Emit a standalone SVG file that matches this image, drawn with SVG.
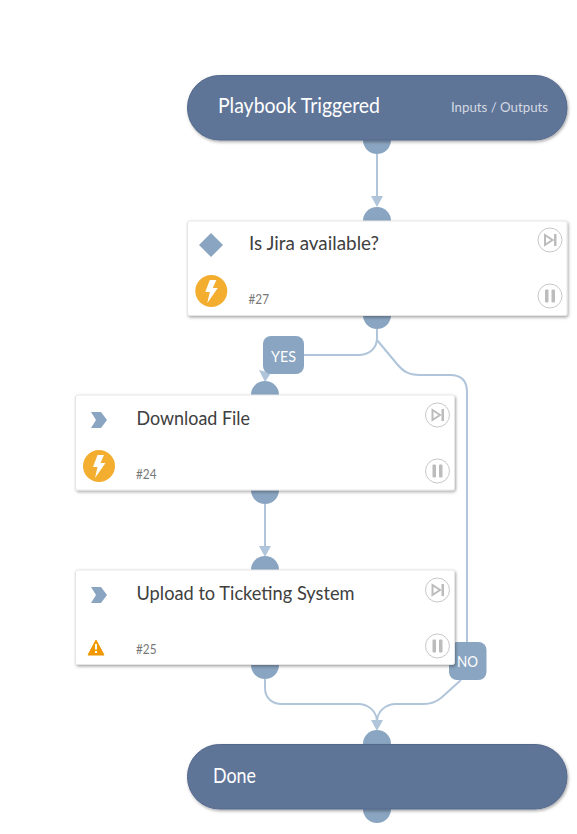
<svg xmlns="http://www.w3.org/2000/svg" width="577" height="834" viewBox="0 0 577 834">
<style>
text{font-family:"Lato","Open Sans","Liberation Sans",sans-serif}
.pill{fill:#5f7498;stroke:#55698c;stroke-width:1;filter:url(#sh)}
.card{fill:#fff;stroke:#e6e6e6;stroke-width:1;filter:url(#sh)}
.port{fill:#8aa5c1}
.link{fill:none;stroke:#b0c4da;stroke-width:2}
.head{fill:#b0c4da}
.badge{fill:#8aa5c1}
.bt{fill:#fff;font-size:15px}
.pt{fill:#fff;font-size:21px}
.nt{fill:#404040;font-size:18.500px}
.id{fill:#777;font-size:13px}
.btn{fill:#fff;stroke:#c8c8c8;stroke-width:1}
.gl{fill:#bcbcbc}
.gs{fill:none;stroke:#bcbcbc;stroke-width:2}
.bolt{fill:#f3ae30}
</style>
<defs>
<filter id="sh" x="-5%" y="-15%" width="110%" height="130%"><feDropShadow dx="1" dy="1.500" stdDeviation="1.500" flood-color="#000" flood-opacity=".35"/></filter>
<g id="run"><circle class="btn" r="12"/><path class="gs" d="M-5-5L2.500 0-5 5Z"/><rect class="gl" x="4" y="-6" width="2.500" height="12"/></g>
<g id="pause"><circle class="btn" r="12"/><rect class="gl" x="-5" y="-6.500" width="3.500" height="13" rx="1"/><rect class="gl" x="1.500" y="-6.500" width="3.500" height="13" rx="1"/></g>
<g id="bolt"><circle class="bolt" r="16"/><path fill="#fff" d="M-1.500-11H5L1.500-3H6.500L-4 12-1.500 1H-6Z"/></g>
<path id="chev" class="port" d="M0 0H10L16 8 10 16H0L5 8Z"/>
</defs>
<g id="connectors">
<path class="link" d="M377 154V200"/><path class="head" d="M371 196H383L377 207Z"/>
<path class="link" d="M377 329V338C377 348 370 355 358 355H304"/>
<path class="link" d="M377 340L397 364C403 371 408 375 420 375H450C461 375 467 381 467 392V643"/>
<path class="head" d="M259 370L271 373 265 382Z"/>
<path class="link" d="M265 504V548"/><path class="head" d="M259 546H271L265 557Z"/>
<path class="link" d="M265 679V688C265 698 272 704 282 704H358C368 704 377 711 377 722"/>
<path class="link" d="M461 680L441 698C436 702 432 704 424 704H396C386 704 377 711 377 722"/>
<path class="head" d="M371 720H383L377 731Z"/>
<g class="port">
<circle cx="377" cy="140" r="14"/><circle cx="377" cy="221" r="14"/><circle cx="377" cy="315" r="14"/>
<circle cx="265" cy="395" r="14"/><circle cx="265" cy="490" r="14"/><circle cx="265" cy="570" r="14"/><circle cx="265" cy="665" r="14"/>
<circle cx="377" cy="744" r="14"/><circle cx="377" cy="809" r="14"/>
</g>
<rect class="badge" x="263" y="336" width="41" height="38" rx="8"/>
<text class="bt" x="283.500" y="362" text-anchor="middle" textLength="25" lengthAdjust="spacingAndGlyphs">YES</text>
<rect class="badge" x="449" y="642" width="37.500" height="38" rx="8"/>
</g>
<g id="node-trigger">
<rect class="pill" x="187.500" y="75.500" width="379.500" height="64.500" rx="32"/>
<text class="pt" x="218" y="113" textLength="162" lengthAdjust="spacingAndGlyphs">Playbook Triggered</text>
<text x="451" y="112" fill="#d5d9e2" font-size="14" textLength="97" lengthAdjust="spacingAndGlyphs">Inputs / Outputs</text>
</g>
<g id="node-27">
<rect class="card" x="187.500" y="221" width="379.500" height="94.500" rx="2"/>
<path class="port" d="M211 233L223 245 211 257 199 245Z"/>
<use href="#bolt" x="211.300" y="291"/>
<text class="nt" x="249" y="250" textLength="130" lengthAdjust="spacingAndGlyphs">Is Jira available?</text>
<text class="id" x="248.500" y="304" textLength="20.500" lengthAdjust="spacingAndGlyphs">#27</text>
<use href="#run" x="550" y="240"/><use href="#pause" x="550" y="296"/>
</g>
<g id="node-24">
<rect class="card" x="75.500" y="395" width="379" height="95" rx="2"/>
<use href="#chev" x="91" y="412"/>
<use href="#bolt" x="99" y="466"/>
<text class="nt" x="136.500" y="425" textLength="113.500" lengthAdjust="spacingAndGlyphs">Download File</text>
<text class="id" x="136" y="479" textLength="20.500" lengthAdjust="spacingAndGlyphs">#24</text>
<use href="#run" x="437.500" y="415"/><use href="#pause" x="437.500" y="471"/>
</g>
<g id="node-25">
<rect class="card" x="75.500" y="570" width="379" height="94.500" rx="2"/>
<use href="#chev" x="91" y="587"/>
<path fill="#f09800" d="M96 640L104 655H88Z" stroke="#f09800" stroke-width="1" stroke-linejoin="round"/>
<rect x="95" y="644" width="2" height="5.500" fill="#fff"/><rect x="95" y="651" width="2" height="2" fill="#fff"/>
<text class="nt" x="136.500" y="600" textLength="218" lengthAdjust="spacingAndGlyphs">Upload to Ticketing System</text>
<text class="id" x="136" y="654" textLength="20.500" lengthAdjust="spacingAndGlyphs">#25</text>
<use href="#run" x="437.500" y="590"/><use href="#pause" x="437.500" y="646"/>
</g>
<text id="label-no" class="bt" x="467.500" y="667" text-anchor="middle" textLength="21" lengthAdjust="spacingAndGlyphs">NO</text>
<g id="node-done">
<rect class="pill" x="187.500" y="744.500" width="379.500" height="64.500" rx="32"/>
<text class="pt" x="213" y="783" textLength="43" lengthAdjust="spacingAndGlyphs">Done</text>
</g>
</svg>
